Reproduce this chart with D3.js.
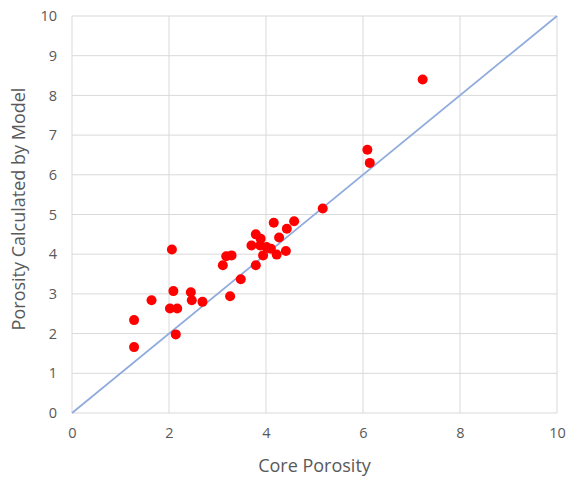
<!DOCTYPE html>
<html>
<head>
<meta charset="utf-8">
<script src="https://cdn.jsdelivr.net/npm/d3@7"></script>
<style>
  html, body { margin: 0; padding: 0; background: #fff; }
  svg { display: block; }
  text { font-family: "Open Sans", "Noto Sans", sans-serif; fill: #595959; }
</style>
</head>
<body>
<svg id="chart" width="577" height="478"></svg>
<script>
// Core porosity (x) vs. porosity calculated by the model (y)
const corePorosity = [
  1.28, 1.28, 1.64, 2.06, 2.09, 2.02, 2.17, 2.14, 2.45, 2.47, 2.69,
  3.11, 3.18, 3.29, 3.26, 3.48, 3.79, 3.70, 3.79, 3.88, 3.89, 3.94,
  4.01, 4.10, 4.16, 4.22, 4.27, 4.41, 4.43, 4.58, 5.17, 6.09, 6.14, 7.23
];
const modelPorosity = [
  2.34, 1.66, 2.84, 4.12, 3.07, 2.63, 2.63, 1.98, 3.04, 2.84, 2.80,
  3.72, 3.95, 3.97, 2.94, 3.37, 3.72, 4.22, 4.50, 4.22, 4.39, 3.97,
  4.18, 4.14, 4.79, 3.99, 4.42, 4.08, 4.64, 4.83, 5.15, 6.63, 6.30, 8.40
];
const xTicks = [0, 2, 4, 6, 8, 10];
const yTicks = [0, 1, 2, 3, 4, 5, 6, 7, 8, 9, 10];
const refLine = [[0, 0], [10, 10]];

const svg = d3.select("#chart");
const fontStack = '"Open Sans", "Noto Sans", sans-serif';

const x = d3.scaleLinear().domain([0, 10]).range([72, 557]);
const y = d3.scaleLinear().domain([0, 10]).range([413, 16]);

// gridlines
svg.append("g")
  .selectAll("line")
  .data(yTicks)
  .join("line")
  .attr("x1", x(0)).attr("x2", x(10))
  .attr("y1", d => y(d)).attr("y2", d => y(d))
  .attr("stroke", "#d9d9d9").attr("stroke-width", 1);

svg.append("g")
  .selectAll("line")
  .data(xTicks)
  .join("line")
  .attr("x1", d => x(d)).attr("x2", d => x(d))
  .attr("y1", y(0)).attr("y2", y(10))
  .attr("stroke", "#d9d9d9").attr("stroke-width", 1);

// axes (labels only, lines come from the grid)
const xAxis = svg.append("g")
  .attr("transform", `translate(0,${y(0)})`)
  .call(d3.axisBottom(x).tickValues(xTicks).tickSize(0).tickPadding(15));
const yAxis = svg.append("g")
  .attr("transform", `translate(${x(0)},0)`)
  .call(d3.axisLeft(y).tickValues(yTicks).tickSize(0).tickPadding(15));
[xAxis, yAxis].forEach(a => {
  a.select(".domain").remove();
  a.selectAll("text")
    .attr("font-family", fontStack)
    .attr("font-size", 14.5)
    .attr("fill", "#595959");
});

// 1:1 reference line
svg.append("path")
  .datum(refLine)
  .attr("d", d3.line().x(d => x(d[0])).y(d => y(d[1])))
  .attr("stroke", "#8faadc")
  .attr("stroke-width", 1.7)
  .attr("fill", "none");

// data points
svg.append("g")
  .selectAll("circle")
  .data(corePorosity.map((c, i) => [c, modelPorosity[i]]))
  .join("circle")
  .attr("cx", d => x(d[0]))
  .attr("cy", d => y(d[1]))
  .attr("r", 5)
  .attr("fill", "#ff0000");

// axis titles
svg.append("text")
  .attr("x", (x(0) + x(10)) / 2)
  .attr("y", 472)
  .attr("text-anchor", "middle")
  .attr("font-size", 18)
  .text("Core Porosity");

svg.append("text")
  .attr("transform", `translate(25,209) rotate(-90)`)
  .attr("text-anchor", "middle")
  .attr("font-size", 18)
  .text("Porosity Calculated by Model");
</script>
</body>
</html>
